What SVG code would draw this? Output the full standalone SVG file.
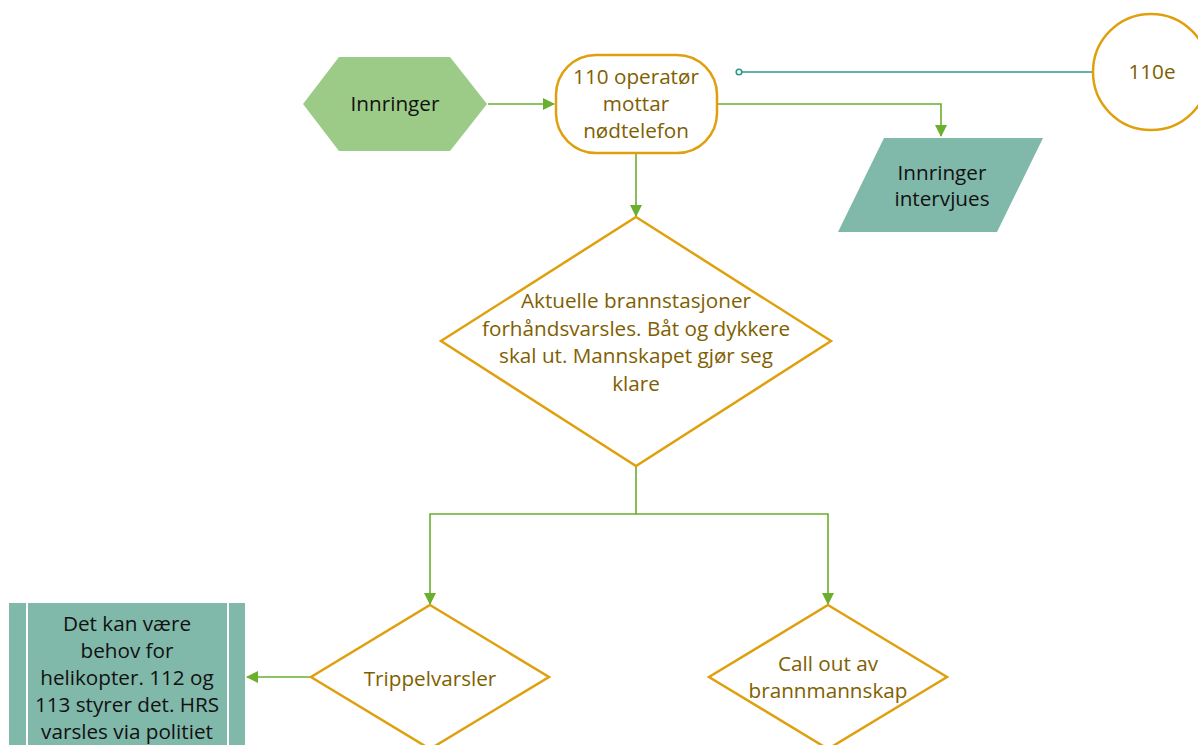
<svg xmlns="http://www.w3.org/2000/svg" width="1198" height="745" viewBox="0 0 1198 745">
<style>
.gold{fill:#ffffff;stroke:#E0A00E;stroke-width:2.5}
.t{font-family:"Open Sans",sans-serif;font-size:20.7px;text-anchor:middle}
.br{fill:#7F6000}
.bk{fill:#111111}
.con{fill:none;stroke:#6AAF2E;stroke-width:1.6}
.teal{fill:none;stroke:#2A9A8A;stroke-width:1.6}
</style>
<defs>
<marker id="ah" markerWidth="12" markerHeight="12" refX="11" refY="6" orient="auto" markerUnits="userSpaceOnUse">
<path d="M0,0 L12,6 L0,12 Z" fill="#6AAF2E"/>
</marker>
</defs>
<rect width="1198" height="745" fill="#ffffff"/>
<g id="connectors">
<line class="con" x1="488" y1="104" x2="554" y2="104" marker-end="url(#ah)"/>
<polyline class="con" points="717,104 941,104 941,136" marker-end="url(#ah)"/>
<line class="con" x1="636" y1="153" x2="636" y2="216" marker-end="url(#ah)"/>
<polyline class="con" points="636,466 636,514 430,514 430,604" marker-end="url(#ah)"/>
<polyline class="con" points="636,514 828,514 828,604" marker-end="url(#ah)"/>
<line class="con" x1="311" y1="677" x2="247" y2="677" marker-end="url(#ah)"/>
<line class="teal" x1="742" y1="72" x2="1092" y2="72"/>
<circle cx="739" cy="72" r="2.8" fill="#ffffff" stroke="#2A9A8A" stroke-width="1.6"/>
</g>
<g id="innringer">
<polygon points="303,104 339,57 450,57 487,104 450,151 339,151" fill="#9CCA87"/>
<text class="t bk" x="395" y="111">Innringer</text>
</g>
<g id="operator">
<rect class="gold" x="556" y="55" width="161" height="98" rx="40" ry="40"/>
<text class="t br" x="636" y="84">110 operatør</text>
<text class="t br" x="636" y="111">mottar</text>
<text class="t br" x="636" y="138">nødtelefon</text>
</g>
<g id="c110e">
<circle class="gold" cx="1151" cy="72" r="58"/>
<text class="t br" x="1152" y="79">110e</text>
</g>
<g id="intervju">
<polygon points="884,138 1043,138 997,232 838,232" fill="#80B8AA"/>
<text class="t bk" x="942" y="180">Innringer</text>
<text class="t bk" x="942" y="206">intervjues</text>
</g>
<g id="forhand">
<polygon class="gold" points="636,217 831,341 636,466 441,341"/>
<text class="t br" x="636" y="308">Aktuelle brannstasjoner</text>
<text class="t br" x="636" y="336">forhåndsvarsles. Båt og dykkere</text>
<text class="t br" x="636" y="363">skal ut. Mannskapet gjør seg</text>
<text class="t br" x="636" y="391">klare</text>
</g>
<g id="trippel">
<polygon class="gold" points="430,605 549,677 430,749 311,677"/>
<text class="t br" x="430" y="686">Trippelvarsler</text>
</g>
<g id="callout">
<polygon class="gold" points="828,605 947,677 828,749 709,677"/>
<text class="t br" x="828" y="671">Call out av</text>
<text class="t br" x="828" y="698">brannmannskap</text>
</g>
<g id="helikopter">
<rect x="9" y="603" width="236" height="150" fill="#80B8AA"/>
<line x1="27" y1="603" x2="27" y2="753" stroke="#ffffff" stroke-width="2"/>
<line x1="228" y1="603" x2="228" y2="753" stroke="#ffffff" stroke-width="2"/>
<text class="t bk" x="127" y="631">Det kan være</text>
<text class="t bk" x="127" y="658">behov for</text>
<text class="t bk" x="127" y="685">helikopter. 112 og</text>
<text class="t bk" x="127" y="712">113 styrer det. HRS</text>
<text class="t bk" x="127" y="739">varsles via politiet</text>
</g>
</svg>
